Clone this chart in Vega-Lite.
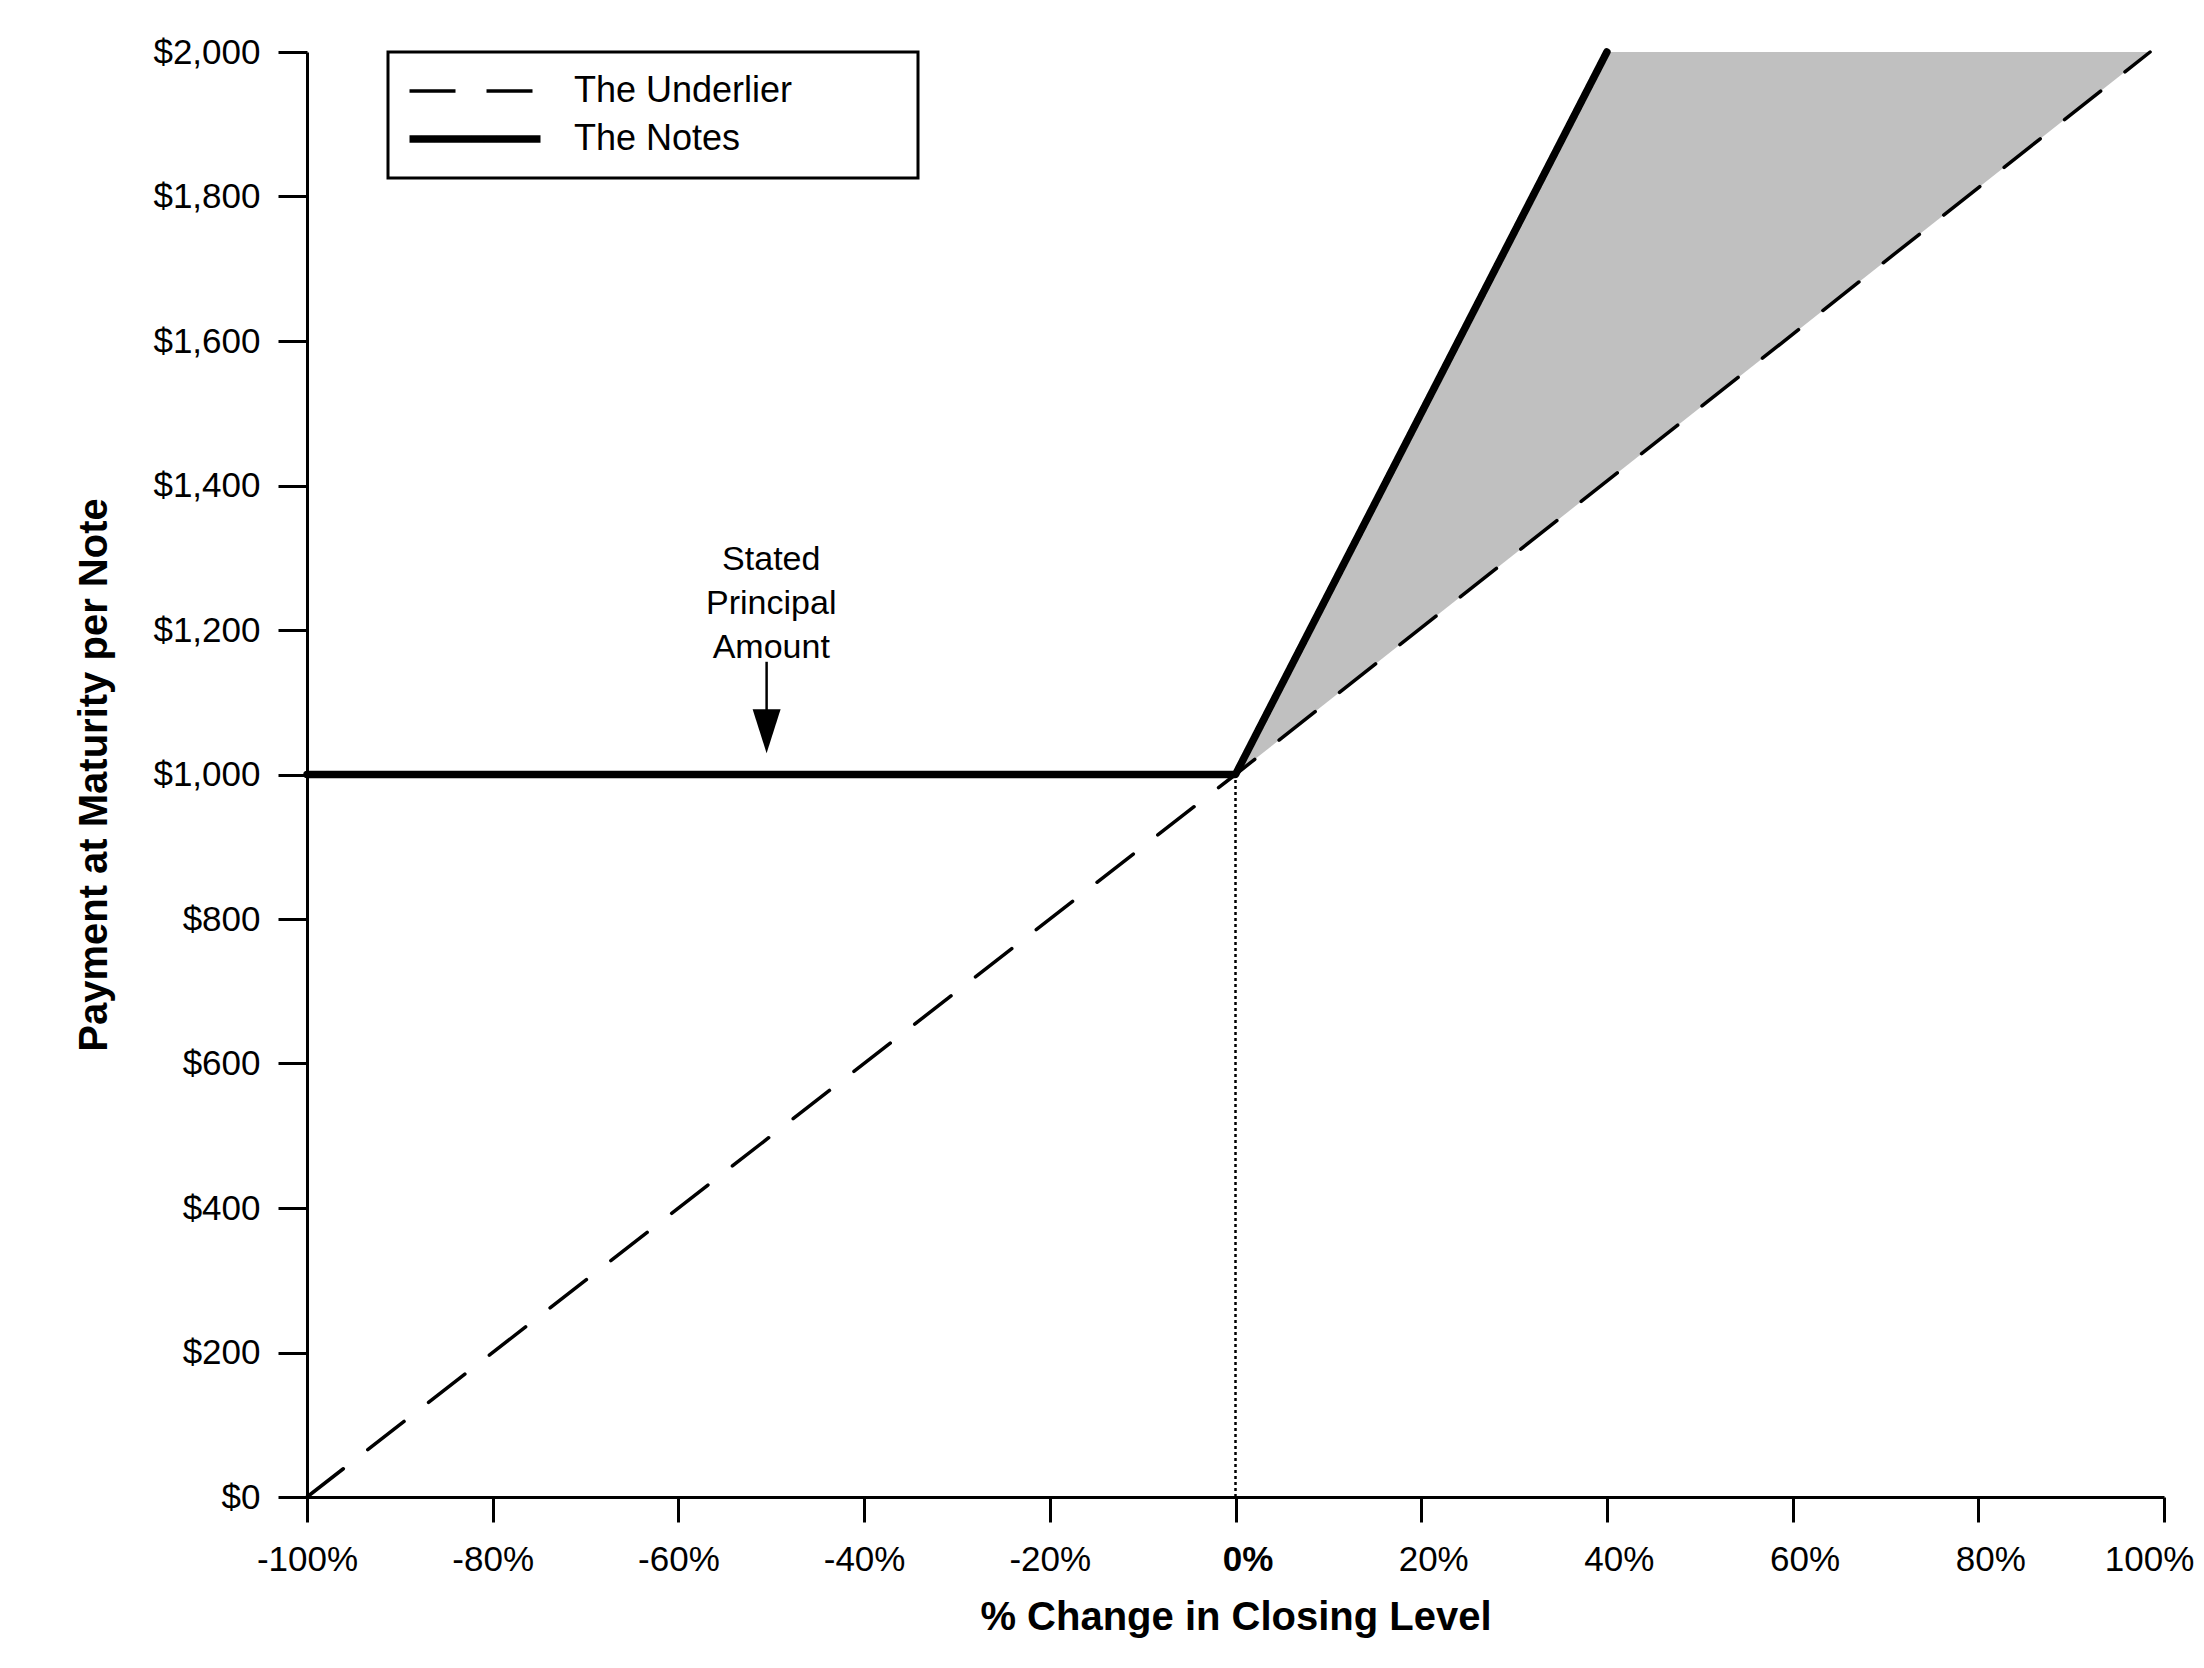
{
  "$schema": "https://vega.github.io/schema/vega-lite/v6.json",
  "width": 1857,
  "height": 1445,
  "autosize": {"type": "none"},
  "padding": {"left": 307, "top": 52, "right": 40, "bottom": 171},
  "background": "white",
  "config": {
    "view": {"stroke": null},
    "font": "Liberation Sans",
    "axis": {
      "grid": false,
      "domainColor": "black",
      "domainWidth": 3,
      "tickColor": "black",
      "tickWidth": 3,
      "labelColor": "black",
      "labelFont": "Liberation Sans",
      "labelFontSize": 35,
      "titleColor": "black",
      "titleFont": "Liberation Sans",
      "titleFontSize": 40,
      "titleFontWeight": "bold",
      "labelFlush": false,
      "labelOverlap": false,
      "labelBound": false
    }
  },
  "datasets": {
    "payoff": [
      {"pct": -100, "value": 0, "series": "The Underlier"},
      {"pct": 0, "value": 1000, "series": "The Underlier"},
      {"pct": 98.5, "value": 2000, "series": "The Underlier"},
      {"pct": -100, "value": 1000, "series": "The Notes"},
      {"pct": 0, "value": 1000, "series": "The Notes"},
      {"pct": 40, "value": 2000, "series": "The Notes"}
    ],
    "band": [
      {"pct": 0, "lo": 1000, "hi": 1000},
      {"pct": 40, "lo": 1406, "hi": 2000},
      {"pct": 98.5, "lo": 2000, "hi": 2000}
    ],
    "strike": [
      {"pct": 0, "lo": 0, "hi": 1000}
    ],
    "note": [
      {"pct": -50, "arrowPct": -50.5, "textY": 1283, "shaftTop": 1156, "shaftBottom": 1085, "headY": 1060, "label": "Stated\nPrincipal\nAmount"}
    ]
  },
  "encoding": {
    "x": {
      "field": "pct",
      "type": "quantitative",
      "scale": {"domain": [-100, 100], "nice": false, "zero": false},
      "axis": {
        "title": "% Change in Closing Level",
        "values": [-100, -80, -60, -40, -20, 0, 20, 40, 60, 80, 100],
        "labelExpr": "datum.value + '%'",
        "labelFontWeight": {"condition": {"test": "datum.value === 0", "value": "bold"}, "value": "normal"},
        "labelOffset": {"condition": [{"test": "datum.value === 100", "value": -15}, {"test": "datum.value >= 0", "value": 12}], "value": 0},
        "tickSize": 25,
        "labelPadding": 20,
        "titlePadding": 20
      }
    }
  },
  "layer": [
    {
      "data": {"name": "band"},
      "mark": {"type": "area", "color": "#c0c0c0", "opacity": 1},
      "encoding": {
        "y": {
          "field": "lo",
          "type": "quantitative",
          "scale": {"domain": [0, 2000], "nice": false},
          "axis": {
            "title": "Payment at Maturity per Note",
            "values": [0, 200, 400, 600, 800, 1000, 1200, 1400, 1600, 1800, 2000],
            "format": "$,d",
            "tickSize": 29,
            "labelPadding": 18,
            "titlePadding": 38
          }
        },
        "y2": {"field": "hi"}
      }
    },
    {
      "data": {"name": "strike"},
      "mark": {"type": "rule", "color": "black", "strokeWidth": 2.5, "strokeDash": [3, 3]},
      "encoding": {
        "y": {"field": "lo", "type": "quantitative"},
        "y2": {"field": "hi"}
      }
    },
    {
      "data": {"name": "payoff"},
      "mark": {"type": "line", "color": "black", "strokeCap": "round", "strokeJoin": "round"},
      "encoding": {
        "y": {"field": "value", "type": "quantitative"},
        "detail": {"field": "series"},
        "strokeDash": {
          "field": "series",
          "type": "nominal",
          "scale": {"domain": ["The Underlier", "The Notes"], "range": [[46, 31], [1, 0]]},
          "legend": {
            "title": null,
            "orient": "none",
            "legendX": 81,
            "legendY": 0,
            "padding": 21,
            "strokeColor": "black",
            "symbolType": "M-1.233,0L7.5,0",
            "symbolSize": 900,
            "symbolStrokeColor": "black",
            "symbolFillColor": "transparent",
            "labelFont": "Liberation Sans",
            "labelFontSize": 36,
            "labelColor": "black",
            "labelOffset": 127,
            "labelLimit": 2000,
            "rowPadding": 11,
            "labelExpr": "datum.label + '\u2800\u2800\u2800\u2800'",
            "encode": {"legend": {"update": {"strokeWidth": {"value": 3}}}}
          }
        },
        "strokeWidth": {
          "field": "series",
          "type": "nominal",
          "scale": {"type": "ordinal", "domain": ["The Underlier", "The Notes"], "range": [3.5, 7.5]},
          "legend": {
            "title": null,
            "orient": "none",
            "legendX": 81,
            "legendY": 0,
            "padding": 21,
            "strokeColor": "black",
            "symbolType": "M-1.233,0L7.5,0",
            "symbolSize": 900,
            "symbolStrokeColor": "black",
            "symbolFillColor": "transparent",
            "labelFont": "Liberation Sans",
            "labelFontSize": 36,
            "labelColor": "black",
            "labelOffset": 127,
            "labelLimit": 2000,
            "rowPadding": 11,
            "labelExpr": "datum.label + '\u2800\u2800\u2800\u2800'",
            "encode": {"legend": {"update": {"strokeWidth": {"value": 3}}}}
          }
        }
      }
    },
    {
      "data": {"name": "note"},
      "mark": {"type": "rule", "color": "black", "strokeWidth": 2.5},
      "encoding": {
        "x": {"field": "arrowPct", "type": "quantitative"},
        "y": {"field": "shaftTop", "type": "quantitative"},
        "y2": {"field": "shaftBottom"}
      }
    },
    {
      "data": {"name": "note"},
      "mark": {"type": "point", "shape": "M-0.636,-1L0.636,-1L0,1Z", "size": 1936, "filled": true, "color": "black", "opacity": 1, "strokeWidth": 0},
      "encoding": {
        "x": {"field": "arrowPct", "type": "quantitative"},
        "y": {"field": "headY", "type": "quantitative"}
      }
    },
    {
      "data": {"name": "note"},
      "mark": {"type": "text", "font": "Liberation Sans", "fontSize": 34, "color": "black", "align": "center", "baseline": "alphabetic", "lineBreak": "\n", "lineHeight": 44},
      "encoding": {
        "y": {"field": "textY", "type": "quantitative"},
        "text": {"field": "label"}
      }
    }
  ]
}
